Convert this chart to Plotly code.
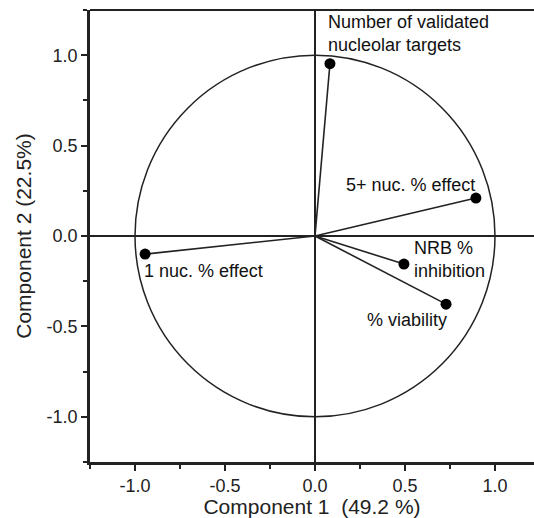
import plotly.graph_objects as go

labels = ["Number of validated<br>nucleolar targets", "5+ nuc. % effect",
          "NRB %<br>inhibition", "% viability", "1 nuc. % effect"]
pc1 = [0.083, 0.894, 0.494, 0.728, -0.944]
pc2 = [0.953, 0.210, -0.155, -0.377, -0.100]

# label placement (anchor, pixel shifts)
lab_anchor = ["left", "right", "left", "right", "left"]
lab_yanchor = ["top", "middle", "middle", "middle", "middle"]
lab_xshift = [-4, 1, 8, 3, -3]
lab_yshift = [54, 13, 5, -16, -17]

tickvals = [-1.0, -0.5, 0.0, 0.5, 1.0]
ticktext = ["-1.0", "-0.5", "0.0", "0.5", "1.0"]

FONT = "Liberation Sans, Arial"

fig = go.Figure()

fig.add_shape(type="circle", xref="x", yref="y", x0=-1, y0=-1, x1=1, y1=1,
              line=dict(color="#222", width=1.5), layer="below")

for i in range(len(pc1)):
    fig.add_trace(go.Scatter(x=[0, pc1[i]], y=[0, pc2[i]], mode="lines",
                             line=dict(color="#222", width=1.6),
                             hoverinfo="skip", showlegend=False))
fig.add_trace(go.Scatter(x=pc1, y=pc2, mode="markers",
                         marker=dict(color="black", size=11),
                         showlegend=False, text=labels))

for i in range(len(pc1)):
    fig.add_annotation(x=pc1[i], y=pc2[i], text=labels[i], showarrow=False,
                       xanchor=lab_anchor[i], yanchor=lab_yanchor[i],
                       xshift=lab_xshift[i], yshift=lab_yshift[i], align="left",
                       font=dict(size=18, color="#111", family=FONT))

fig.add_shape(type="line", xref="paper", yref="paper", x0=0, x1=1, y0=1, y1=1,
              line=dict(color="#222", width=2))

axis_common = dict(
    showgrid=False, zeroline=True, zerolinecolor="#222", zerolinewidth=1.5,
    showline=True, linecolor="#222", linewidth=2.5,
    ticks="outside", ticklen=6, tickwidth=1.5, tickcolor="#222",
    tickvals=tickvals, ticktext=ticktext,
    tickfont=dict(size=18, color="#222", family=FONT),
    minor=dict(ticks="outside", ticklen=4, tickwidth=1.5, tickcolor="#222",
               tickvals=[-1.25, -0.75, -0.25, 0.25, 0.75, 1.25]),
)

fig.update_xaxes(range=[-1.25, 1.2167],
                 title=dict(text="Component 1 \u00a0(49.2 %)", standoff=0,
                            font=dict(size=21, color="#222", family=FONT)),
                 **axis_common)
fig.update_yaxes(range=[-1.25, 1.25],
                 title=dict(text="Component 2 (22.5%)", standoff=10,
                            font=dict(size=21, color="#222", family=FONT)),
                 **axis_common)

fig.update_layout(width=534, height=518,
                  margin=dict(l=90, r=0, t=10, b=56),
                  plot_bgcolor="white", paper_bgcolor="white",
                  showlegend=False)

fig.write_html("out.html")
